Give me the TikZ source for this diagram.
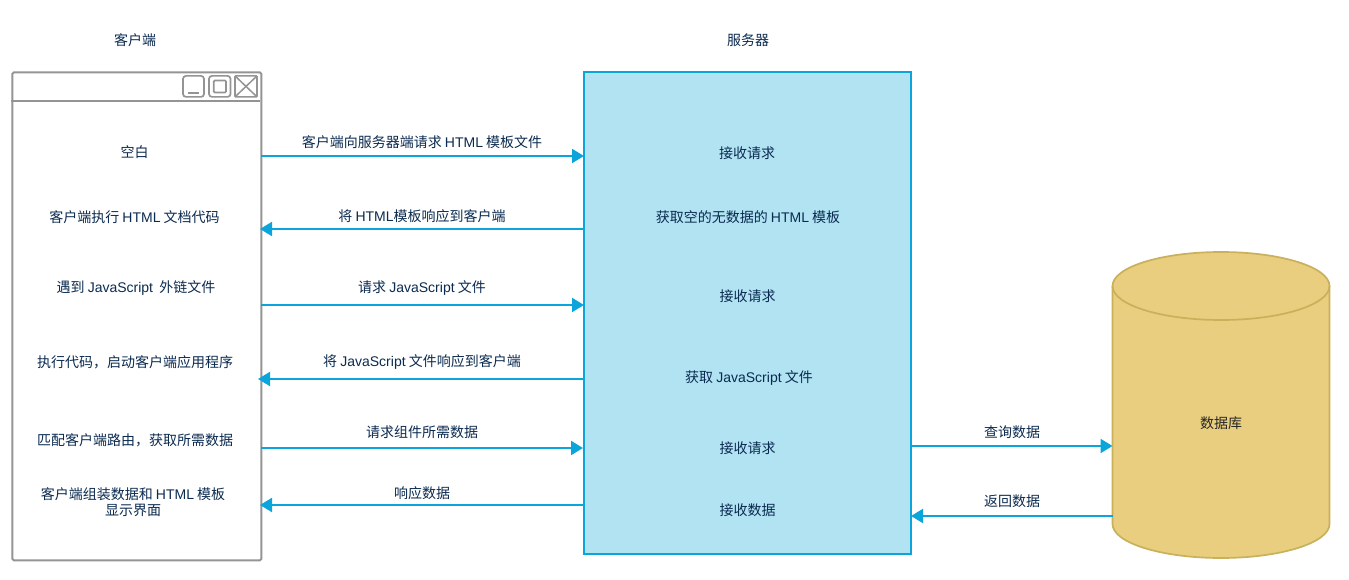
\documentclass[tikz,border=0pt]{standalone}
\usepackage{fontspec}
\setmainfont{Noto Sans CJK SC}
\newfontfamily\latinf{Liberation Sans}
\newcommand{\la}[1]{{\latinf #1}}
\usetikzlibrary{arrows.meta}
\definecolor{ink}{HTML}{0B2A4F}
\definecolor{flow}{HTML}{0BA5DC}
\definecolor{srvfill}{HTML}{B1E3F3}
\definecolor{winline}{HTML}{949494}
\definecolor{dbfill}{HTML}{E8CE7E}
\definecolor{dbline}{HTML}{C9B15B}
\tikzset{
  lab/.style={text=ink,font=\fontsize{14}{16}\selectfont,inner sep=0pt,align=center},
  dblab/.style={text=black!85,font=\fontsize{14}{16}\selectfont,inner sep=0pt},
  link/.style={draw=flow,line width=2pt,-{Triangle[length=12pt,width=14pt]}},
  win/.style={draw=winline,line width=2pt,rounded corners=1.5pt},
  winbtn/.style={draw=winline,line width=1.7pt,rounded corners=3pt},
  pane/.style={draw=flow,fill=srvfill,line width=2pt},
  db/.style={draw=dbline,fill=dbfill,line width=1.7pt}
}
\begin{document}
\begin{tikzpicture}[x=1pt,y=-1pt]
\useasboundingbox (0,0) rectangle (1349,580);
% client window
\node[win,minimum width=249pt,minimum height=488pt,inner sep=0pt,anchor=north west] (client) at (11.4,71.4) {};
\draw[win,rounded corners=0pt] (11.4,100.9) -- (260.4,100.9);
\draw[winbtn] (183,75.9) rectangle (204,96.9);
\draw[winline,line width=1.7pt] (188,93.2) -- (199,93.2);
\draw[winbtn] (209,75.9) rectangle (230.5,96.9);
\draw[winline,line width=1.7pt,rounded corners=1pt] (213.8,80.5) rectangle (226,92.5);
\draw[winbtn,rounded corners=1pt] (235,75.9) rectangle (257,96.9);
\draw[winline,line width=1.5pt] (235,75.9) -- (257,96.9) (257,75.9) -- (235,96.9);
% server
\node[pane,minimum width=327pt,minimum height=482pt,inner sep=0pt,anchor=north west] (server) at (583.4,71.4) {};
% database
\path[db] (1112.5,286) arc[x radius=108.5,y radius=34,start angle=180,end angle=360] -- (1329.5,524) arc[x radius=108.5,y radius=34,start angle=0,end angle=180] -- cycle;
\draw[db,fill=none] (1112.5,286) arc[x radius=108.5,y radius=34,start angle=180,end angle=0];
\coordinate (dbw1) at (1112.5,446);
\coordinate (dbw2) at (1112.5,516);
\node[dblab] (dbtext) at (1221,423) {数据库};
% titles
\node[lab] (t1) at (135,40) {客户端};
\node[lab] (t2) at (748,40) {服务器};
% client texts
\node[lab] (c1) at (134.5,152) {空白};
\node[lab] (c2) at (134.5,217) {客户端执行 \la{HTML} 文档代码};
\node[lab] (c3) at (136,288.5) {遇到 \la{JavaScript}\ \ 外链文件};
\node[lab] (c4) at (135,362) {执行代码，启动客户端应用程序};
\node[lab] (c5) at (135,440) {匹配客户端路由，获取所需数据};
\node[lab] (c6) at (133,502.5) {客户端组装数据和 \la{HTML} 模板\\显示界面};
% server texts
\node[lab] (s1) at (747,153) {接收请求};
\node[lab] (s2) at (748,217) {获取空的无数据的 \la{HTML} 模板};
\node[lab] (s3) at (747.5,296) {接收请求};
\node[lab] (s4) at (749,378.5) {获取 \la{JavaScript} 文件};
\node[lab] (s5) at (747.5,448) {接收请求};
\node[lab] (s6) at (747.5,510) {接收数据};
% connector end points
\coordinate (a1) at (261,156); \coordinate (b1) at (584,156);
\coordinate (a2) at (260,229); \coordinate (b2) at (584,229);
\coordinate (a3) at (261,305); \coordinate (b3) at (584,305);
\coordinate (a4) at (258,379); \coordinate (b4) at (583,379);
\coordinate (a5) at (261,448); \coordinate (b5) at (583,448);
\coordinate (a6) at (260,505); \coordinate (b6) at (584,505);
\coordinate (e1) at (912,446);
\coordinate (e2) at (911,516);
% connectors
\draw[link] (a1) -- (b1);
\draw[link] (b2) -- (a2);
\draw[link] (a3) -- (b3);
\draw[link] (b4) -- (a4);
\draw[link] (a5) -- (b5);
\draw[link] (b6) -- (a6);
\draw[link] (e1) -- (dbw1);
\draw[link] (dbw2) -- (e2);
% connector labels
\node[lab] (l1) at (422,142.5) {客户端向服务器端请求 \la{HTML} 模板文件};
\node[lab] (l2) at (422,216.5) {将 \la{HTML}模板响应到客户端};
\node[lab] (l3) at (422,288.5) {请求 \la{JavaScript} 文件};
\node[lab] (l4) at (422,362.5) {将 \la{JavaScript} 文件响应到客户端};
\node[lab] (l5) at (422,432) {请求组件所需数据};
\node[lab] (l6) at (422,493) {响应数据};
\node[lab] (l7) at (1012,432) {查询数据};
\node[lab] (l8) at (1012,501) {返回数据};
\end{tikzpicture}
\end{document}
